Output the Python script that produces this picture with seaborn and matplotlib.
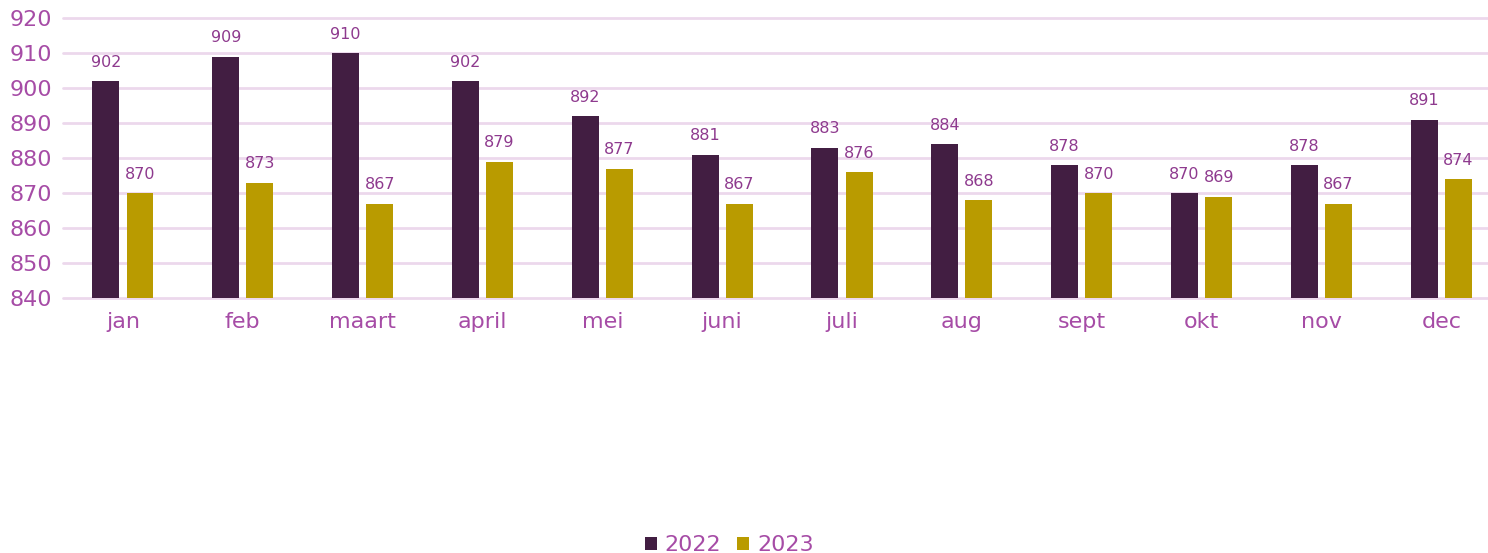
import pandas as pd
import matplotlib.pyplot as plt
import seaborn as sns

# ---------- DATA ----------
months = ["jan", "feb", "maart", "april", "mei", "juni", "juli",
          "aug", "sept", "okt", "nov", "dec"]
years = ["2022", "2023"]
values_2022 = [902, 909, 910, 902, 892, 881, 883, 884, 878, 870, 878, 891]
values_2023 = [870, 873, 867, 879, 877, 867, 876, 868, 870, 869, 867, 874]
y_ticks = [840, 850, 860, 870, 880, 890, 900, 910, 920]

# ---------- STYLE ----------
COLORS = {"2022": "#421e42", "2023": "#b99b00"}
TICK_COLOR = "#a64ca6"
LABEL_COLOR = "#8e3a8e"
GRID_COLOR = "#ecd8ec"

sns.set_theme(style="white")
plt.rcParams["font.family"] = ["DejaVu Sans"]

df = pd.DataFrame({
    "maand": months * 2,
    "jaar": [years[0]] * len(months) + [years[1]] * len(months),
    "waarde": values_2022 + values_2023,
})

fig = plt.figure(figsize=(14.88, 5.53), dpi=100)
ax = fig.add_axes([63 / 1488, 1 - 298 / 553, 1 - 63 / 1488, (298 - 18) / 553])

sns.barplot(data=df, x="maand", y="waarde", hue="jaar", order=months,
            hue_order=years, palette=COLORS, width=0.57, gap=0.21,
            saturation=1, linewidth=0, ax=ax, legend=True)

for container in ax.containers:
    ax.bar_label(container, fmt="%d", padding=8, fontsize=11.5, color=LABEL_COLOR)

ax.set_ylim(840, 920)
ax.set_yticks(y_ticks)
ax.set_xlim(-0.5, 11.39)
ax.yaxis.grid(True, color=GRID_COLOR, linewidth=2, clip_on=False)
ax.set_axisbelow(True)
ax.set_xlabel("")
ax.set_ylabel("")
ax.tick_params(axis="both", length=0, labelsize=16, colors=TICK_COLOR)
ax.tick_params(axis="y", pad=8)
ax.tick_params(axis="x", pad=10)
for spine in ax.spines.values():
    spine.set_visible(False)

handles, labels = ax.get_legend_handles_labels()
ax.get_legend().remove()
fig.legend(handles, labels, loc="lower center", bbox_to_anchor=(0.49, -0.04),
           ncol=2, frameon=False, fontsize=16, labelcolor=TICK_COLOR,
           handlelength=0.55, handleheight=0.55, handletextpad=0.35,
           columnspacing=0.7)

fig.savefig("out.png", dpi=100)
